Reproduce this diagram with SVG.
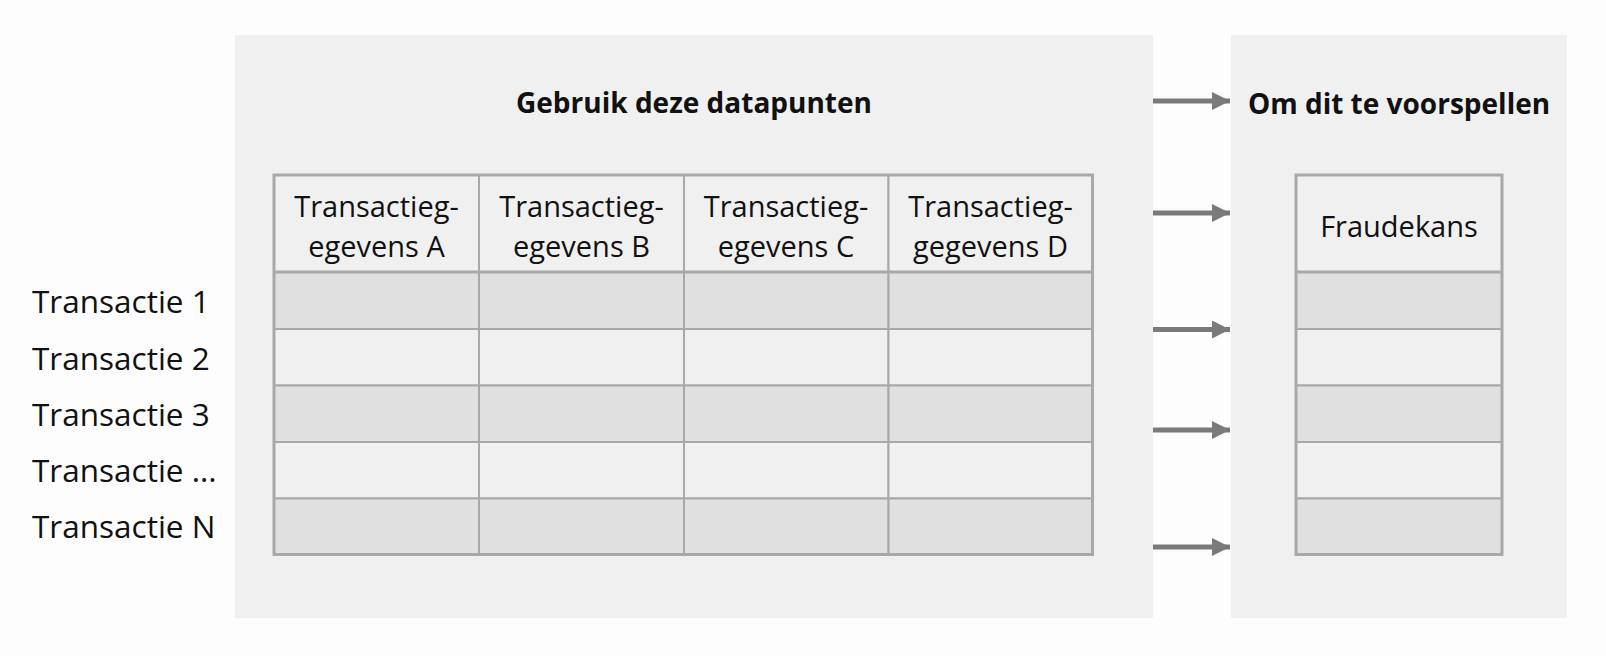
<svg xmlns="http://www.w3.org/2000/svg" width="1606" height="656" viewBox="0 0 1606 656">
  <defs>
    <marker id="ah" viewBox="0 0 10 10" refX="10" refY="5" markerWidth="3.6" markerHeight="3.8" markerUnits="strokeWidth" orient="auto">
      <path d="M0,0 L10,5 L0,10 Z" fill="#7a7a7a"/>
    </marker>
    <style>
      .panel { fill: #f0f0f0; }
      .hdr { fill: #f0f0f0; stroke: #a8a8a8; stroke-width: 2; }
      .dark { fill: #e0e0e0; stroke: #a8a8a8; stroke-width: 2; }
      .light { fill: #f0f0f0; stroke: #a8a8a8; stroke-width: 2; }
      .frame { fill: none; stroke: #a8a8a8; stroke-width: 3; }
      .sep { stroke: #a8a8a8; stroke-width: 3; }
      .t { font-family: "Open Sans", "Noto Sans", sans-serif; font-size: 29px; fill: #111; }
      .lbl { font-size: 31.5px; }
      .c { text-anchor: middle; }
      .b { font-family: "Open Sans", "Noto Sans", sans-serif; font-size: 28px; font-weight: bold; fill: #111; text-anchor: middle; }
      .arrow { stroke: #7a7a7a; stroke-width: 5; fill: none; marker-end: url(#ah); }
    </style>
  </defs>
  <rect width="1606" height="656" fill="#fdfdfd"/>

  <g id="input-panel">
    <rect class="panel" x="235" y="35" width="918" height="583"/>
    <text class="b" x="694" y="113">Gebruik deze datapunten</text>
  </g>

  <g id="input-table">
    <rect class="hdr" x="274" y="175" width="205" height="97"/>
    <rect class="hdr" x="479" y="175" width="205" height="97"/>
    <rect class="hdr" x="684" y="175" width="204.5" height="97"/>
    <rect class="hdr" x="888.5" y="175" width="204" height="97"/>
    <g id="row-1">
      <rect class="dark" x="274" y="272" width="205" height="57"/>
      <rect class="dark" x="479" y="272" width="205" height="57"/>
      <rect class="dark" x="684" y="272" width="204.5" height="57"/>
      <rect class="dark" x="888.5" y="272" width="204" height="57"/>
    </g>
    <g id="row-2">
      <rect class="light" x="274" y="329" width="205" height="56.5"/>
      <rect class="light" x="479" y="329" width="205" height="56.5"/>
      <rect class="light" x="684" y="329" width="204.5" height="56.5"/>
      <rect class="light" x="888.5" y="329" width="204" height="56.5"/>
    </g>
    <g id="row-3">
      <rect class="dark" x="274" y="385.5" width="205" height="56.5"/>
      <rect class="dark" x="479" y="385.5" width="205" height="56.5"/>
      <rect class="dark" x="684" y="385.5" width="204.5" height="56.5"/>
      <rect class="dark" x="888.5" y="385.5" width="204" height="56.5"/>
    </g>
    <g id="row-4">
      <rect class="light" x="274" y="442" width="205" height="56.5"/>
      <rect class="light" x="479" y="442" width="205" height="56.5"/>
      <rect class="light" x="684" y="442" width="204.5" height="56.5"/>
      <rect class="light" x="888.5" y="442" width="204" height="56.5"/>
    </g>
    <g id="row-n">
      <rect class="dark" x="274" y="498.5" width="205" height="56"/>
      <rect class="dark" x="479" y="498.5" width="205" height="56"/>
      <rect class="dark" x="684" y="498.5" width="204.5" height="56"/>
      <rect class="dark" x="888.5" y="498.5" width="204" height="56"/>
    </g>
    <rect class="frame" x="274" y="175" width="818.5" height="379.5"/>
    <line class="sep" x1="274" y1="272" x2="1092.5" y2="272"/>
    <g id="col-a">
      <text class="t c" x="376.5" y="217">Transactieg-</text>
      <text class="t c" x="376.5" y="257">egevens A</text>
    </g>
    <g id="col-b">
      <text class="t c" x="581.5" y="217">Transactieg-</text>
      <text class="t c" x="581.5" y="257">egevens B</text>
    </g>
    <g id="col-c">
      <text class="t c" x="786" y="217">Transactieg-</text>
      <text class="t c" x="786" y="257">egevens C</text>
    </g>
    <g id="col-d">
      <text class="t c" x="990.5" y="217">Transactieg-</text>
      <text class="t c" x="990.5" y="257">gegevens D</text>
    </g>
  </g>

  <g id="row-labels">
    <text class="t lbl" x="32" y="313">Transactie 1</text>
    <text class="t lbl" x="32" y="370">Transactie 2</text>
    <text class="t lbl" x="32" y="426">Transactie 3</text>
    <text class="t lbl" x="32" y="482">Transactie ...</text>
    <text class="t lbl" x="32" y="538">Transactie N</text>
  </g>

  <g id="output-panel">
    <rect class="panel" x="1231" y="35" width="336" height="583"/>
    <text class="b" x="1399" y="114">Om dit te voorspellen</text>
  </g>

  <g id="output-table">
    <rect class="hdr" x="1296" y="175" width="206" height="97"/>
    <rect class="dark" x="1296" y="272" width="206" height="57"/>
    <rect class="light" x="1296" y="329" width="206" height="56.5"/>
    <rect class="dark" x="1296" y="385.5" width="206" height="56.5"/>
    <rect class="light" x="1296" y="442" width="206" height="56.5"/>
    <rect class="dark" x="1296" y="498.5" width="206" height="56"/>
    <rect class="frame" x="1296" y="175" width="206" height="379.5"/>
    <line class="sep" x1="1296" y1="272" x2="1502" y2="272"/>
    <text class="t c" x="1399" y="237">Fraudekans</text>
  </g>

  <g id="connectors">
    <line class="arrow" x1="1153" y1="101" x2="1230" y2="101"/>
    <line class="arrow" x1="1153" y1="213" x2="1230" y2="213"/>
    <line class="arrow" x1="1153" y1="329.5" x2="1230" y2="329.5"/>
    <line class="arrow" x1="1153" y1="430" x2="1230" y2="430"/>
    <line class="arrow" x1="1153" y1="547" x2="1230" y2="547"/>
  </g>
</svg>
